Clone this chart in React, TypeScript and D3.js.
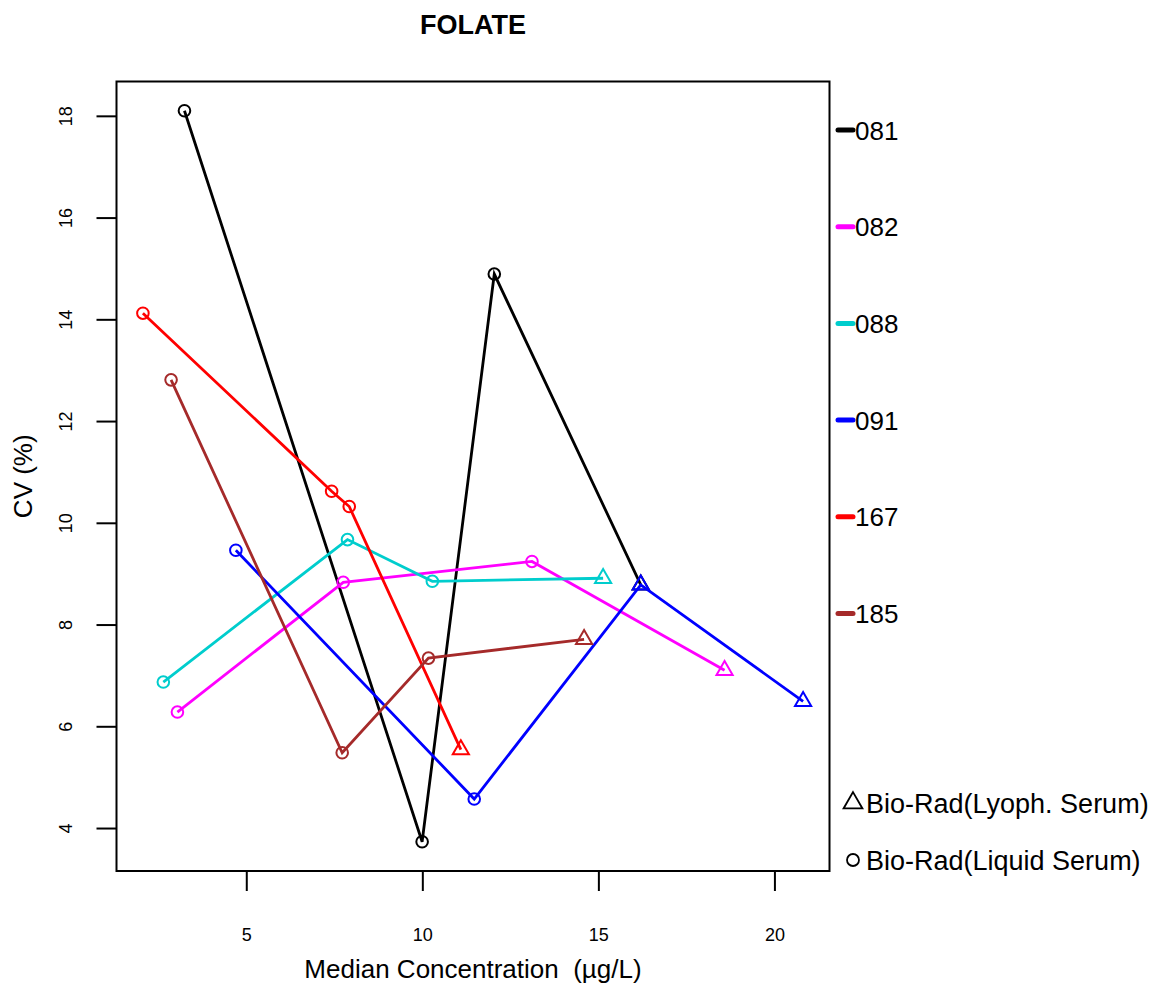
import React from "react";
import * as d3 from "d3";

const labs = ["081", "082", "088", "091", "167", "185"];
const colors = ["#000000", "#FF00FF", "#00CDCD", "#0000FF", "#FF0000", "#A52A2A"];
// median concentration (µg/L)
const xs081 = [3.23, 9.98, 12.03, 16.19];
const ys081 = [18.11, 3.74, 14.9, 8.79];
const sh081 = ["c", "c", "c", "t"];
const xs082 = [3.03, 7.74, 13.1, 18.57];
const ys082 = [6.29, 8.84, 9.25, 7.11];
const sh082 = ["c", "c", "c", "t"];
const xs088 = [2.63, 7.86, 10.27, 15.12];
const ys088 = [6.88, 9.68, 8.86, 8.92];
const sh088 = ["c", "c", "c", "t"];
const xs091 = [4.69, 11.46, 16.19, 20.8];
const ys091 = [9.47, 4.58, 8.79, 6.5];
const sh091 = ["c", "c", "t", "t"];
const xs167 = [2.05, 7.41, 7.91, 11.08];
const ys167 = [14.13, 10.63, 10.33, 5.55];
const sh167 = ["c", "c", "c", "t"];
const xs185 = [2.85, 7.71, 10.16, 14.58];
const ys185 = [12.82, 5.49, 7.35, 7.72];
const sh185 = ["c", "c", "c", "t"];
const xTicks = [5, 10, 15, 20];
const yTicks = [4, 6, 8, 10, 12, 14, 16, 18];
const shapeLabels = ["Bio-Rad(Lyoph. Serum)", "Bio-Rad(Liquid Serum)"];

const seriesX = [xs081, xs082, xs088, xs091, xs167, xs185];
const seriesY = [ys081, ys082, ys088, ys091, ys167, ys185];
const seriesS = [sh081, sh082, sh088, sh091, sh167, sh185];

const FONT = "'Liberation Sans', Arial, Helvetica, sans-serif";

function expand(ext: [number, number]): [number, number] {
  const d = (ext[1] - ext[0]) * 0.04;
  return [ext[0] - d, ext[1] + d];
}

export default function App() {
  const L = 116.5, R = 829.5, T = 81.5, B = 871;
  const allX = seriesX.flat();
  const allY = seriesY.flat();
  const x = d3.scaleLinear().domain(expand(d3.extent(allX) as [number, number])).range([L, R]);
  const y = d3.scaleLinear().domain(expand(d3.extent(allY) as [number, number])).range([B, T]);
  const line = d3.line<[number, number]>().x((d) => x(d[0])).y((d) => y(d[1]));
  const tri = (cx: number, cy: number, s: number) => {
    const r = 1.5551 * s, h = 1.3468 * s, yc = 0.7776 * s;
    return `M${cx},${cy - r}L${cx + h},${cy + yc}L${cx - h},${cy + yc}Z`;
  };
  const legY0 = 130, legStep = 96.7;
  return (
    <svg width={1151} height={983} style={{ position: "absolute", left: 0, top: 0, background: "#fff" }} fontFamily={FONT}>
      <rect x={0} y={0} width={1151} height={983} fill="#fff" />
      <text x={(L + R) / 2} y={34} textAnchor="middle" fontWeight="bold" fontSize={27}>FOLATE</text>
      {/* series */}
      {seriesX.map((xsArr, i) => {
        const pts = xsArr.map((v, j) => [v, seriesY[i][j]] as [number, number]);
        return (
          <g key={labs[i]}>
            <path d={line(pts) || ""} fill="none" stroke={colors[i]} strokeWidth={2.8} />
            {pts.map((p, j) =>
              seriesS[i][j] === "c" ? (
                <circle key={j} cx={x(p[0])} cy={y(p[1])} r={5.8} fill="none" stroke={colors[i]} strokeWidth={2} />
              ) : (
                <path key={j} d={tri(x(p[0]), y(p[1]), 6)} fill="none" stroke={colors[i]} strokeWidth={2} />
              )
            )}
          </g>
        );
      })}
      {/* box */}
      <rect x={L} y={T} width={R - L} height={B - T} fill="none" stroke="#000" strokeWidth={2} />
      {/* x axis */}
      {xTicks.map((t) => (
        <g key={t}>
          <line x1={x(t)} x2={x(t)} y1={B} y2={B + 20} stroke="#000" strokeWidth={2} />
          <text x={x(t)} y={941} textAnchor="middle" fontSize={18}>{t}</text>
        </g>
      ))}
      {/* y axis */}
      {yTicks.map((t) => (
        <g key={t}>
          <line x1={L - 20} x2={L} y1={y(t)} y2={y(t)} stroke="#000" strokeWidth={2} />
          <text transform={`translate(72,${y(t)}) rotate(-90)`} textAnchor="middle" fontSize={18}>{t}</text>
        </g>
      ))}
      <text x={(L + R) / 2} y={978} textAnchor="middle" fontSize={26} style={{ whiteSpace: "pre" }}>{"Median Concentration  (µg/L)"}</text>
      <text transform={`translate(32,${(T + B) / 2}) rotate(-90)`} textAnchor="middle" fontSize={26}>CV (%)</text>
      {/* legend */}
      {labs.map((lab, i) => (
        <g key={lab}>
          <line x1={838} x2={853} y1={legY0 + i * legStep} y2={legY0 + i * legStep} stroke={colors[i]} strokeWidth={5} strokeLinecap="round" />
          <text x={855} y={legY0 + i * legStep + 9.5} fontSize={26}>{lab}</text>
        </g>
      ))}
      <path d={tri(853, 803, 7)} fill="none" stroke="#000" strokeWidth={1.8} />
      <text x={866} y={812.5} fontSize={27}>{shapeLabels[0]}</text>
      <circle cx={853} cy={860} r={6} fill="none" stroke="#000" strokeWidth={1.8} />
      <text x={866} y={869.5} fontSize={27}>{shapeLabels[1]}</text>
    </svg>
  );
}
